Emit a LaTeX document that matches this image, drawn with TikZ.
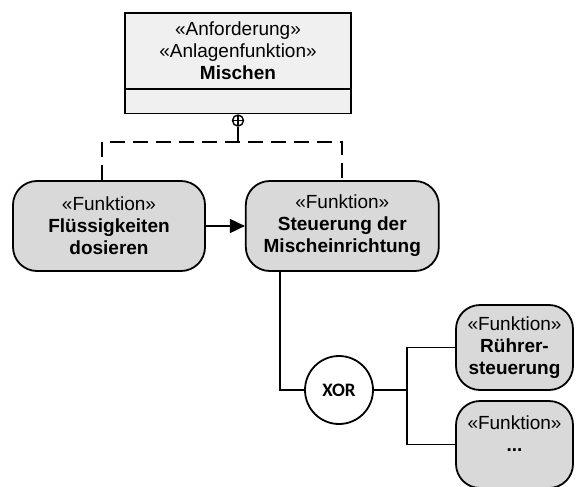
\documentclass[tikz,border=0pt]{standalone}
\usepackage{fontspec}
\setmainfont{Liberation Sans}
\newfontfamily\gatefont{Carlito}
\usepackage{tikz}
\usetikzlibrary{positioning,shapes.multipart,arrows.meta}
\definecolor{fnfill}{RGB}{217,217,217}
\definecolor{reqfill}{RGB}{240,240,240}

\begin{document}
\begin{tikzpicture}[x=0.5pt, y=-0.5pt, line width=0.9pt, font=\fontsize{9.5}{11}\selectfont]
	\tikzset{
		func/.style={draw, fill=fnfill, rounded corners=12pt, align=center, inner sep=2pt},
		reqbox/.style={draw, fill=reqfill, rectangle split, rectangle split parts=2, align=center, inner ysep=4pt},
		gate/.style={draw, circle, fill=white, minimum size=34pt, inner sep=0pt},
		owner/.style={draw, circle, fill=white, minimum size=5.5pt, inner sep=0pt, line width=0.7pt,
			path picture={\draw[line width=0.6pt] (path picture bounding box.north) -- (path picture bounding box.south)
				(path picture bounding box.west) -- (path picture bounding box.east);}}
	}
	\useasboundingbox (0,0) rectangle (582,486);

	\node[reqbox, minimum width=113pt, anchor=north] (req) at (238,12) {«Anforderung»\\«Anlagenfunktion»\\\textbf{Mischen}\nodepart{two}\rule{0pt}{3.5pt}};
	\node[owner, anchor=north] (own) at (req.south) {};

	\node[func, minimum width=96pt, minimum height=45pt] (dos) at (109,226) {«Funktion»\\\textbf{Flüssigkeiten}\\\textbf{dosieren}};
	\node[func, minimum width=96.5pt, minimum height=45pt, right=19.5pt of dos] (ctrl) {«Funktion»\\\textbf{Steuerung der}\\\textbf{Mischeinrichtung}};

	\node[gate] (xor) at (339,390) {\gatefont\bfseries XOR};
	\node[func, minimum width=58.5pt, minimum height=42.5pt] (ruehr) at (514.5,347.5) {«Funktion»\\\textbf{Rührer-}\\\textbf{steuerung}};
	\node[func, minimum width=58.5pt, minimum height=43.5pt] (more) at (514.5,444.5) {«Funktion»\\\textbf{...}\\\mbox{}};

	\coordinate (jn) at (238,142);
	\coordinate (fork) at (407,390);

	% containment of the two functions
	\draw (own) -- (jn);
	\draw[dash pattern=on 7.5pt off 4pt] ([xshift=-3.5pt]dos.north) |- (jn) -| (ctrl.north);

	\draw[-{Triangle[length=7.5pt,width=7pt]}] (dos) -- (ctrl);

	% xor branch
	\draw ([xshift=-31pt]ctrl.south) |- (xor);
	\draw (xor) -- (fork);
	\draw (ruehr) -| (fork) |- (more);
\end{tikzpicture}
\end{document}
